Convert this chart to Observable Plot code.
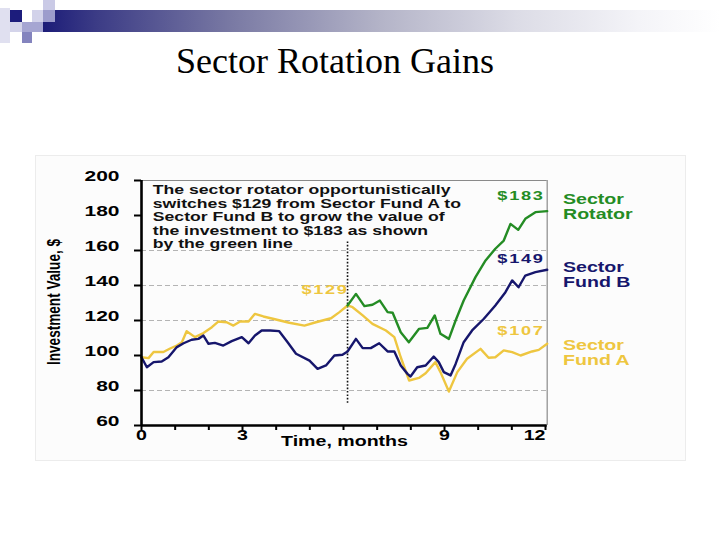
<!DOCTYPE html>
<html><head><meta charset="utf-8">
<script src="https://cdn.jsdelivr.net/npm/d3@7"></script>
<script src="https://cdn.jsdelivr.net/npm/@observablehq/plot@0.6"></script>
<style>
body{margin:0;background:#fff;}
#slide{position:relative;width:720px;height:540px;overflow:hidden;background:#fff;}
.sq{position:absolute;}
#bar{position:absolute;left:43px;top:10px;width:677px;height:22px;
 background:linear-gradient(to right,#1c1c78 0%,#3c3c86 8%,#7a7aa4 28%,#b4b4c8 50%,#dcdce6 70%,#f4f4f8 88%,#ffffff 100%);}
#title{position:absolute;left:176px;top:43px;white-space:nowrap;font-family:"Liberation Serif","Times New Roman",serif;font-size:36px;line-height:36px;color:#000;}
#box{position:absolute;left:35px;top:155px;width:649px;height:304px;background:#fcfcfc;border:1px solid #ececec;}
#chart{position:absolute;left:0;top:150px;}
</style></head>
<body>
<div id="slide">
  <div id="bar"></div>
  <div class="sq" style="left:0;top:8px;width:10px;height:35px;background:#e0e0f0"></div>
  <div class="sq" style="left:10px;top:10px;width:12px;height:12px;background:#1c1c7c"></div>
  <div class="sq" style="left:32px;top:10px;width:11px;height:12px;background:#d2d2ea"></div>
  <div class="sq" style="left:43px;top:0;width:12px;height:10px;background:#cacae6"></div>
  <div class="sq" style="left:43px;top:10px;width:12px;height:12px;background:#9c9ccc"></div>
  <div class="sq" style="left:10px;top:22px;width:12px;height:10px;background:#d4d4ea"></div>
  <div class="sq" style="left:22px;top:22px;width:21px;height:10px;background:#a6a6d2"></div>
  <div class="sq" style="left:22px;top:32px;width:10px;height:11px;background:#8484be"></div>
  <div id="title">Sector Rotation Gains</div>
  <div id="box"></div>
  <div id="chart"></div>
</div>
<script>
// ---- data ----
const fundATime = [0,0.21,0.36,0.65,0.85,1.05,1.20,1.34,1.59,1.84,2.09,2.28,2.53,2.73,2.93,3.18,3.37,3.62,3.90,4.39,4.84,5.18,5.63,5.88,6.12,6.27,6.57,6.86,7.26,7.51,7.70,7.95,8.24,8.44,8.73,8.88,9.13,9.38,9.67,10.07,10.31,10.51,10.76,11.01,11.26,11.60,11.80,12.05];
const fundAValue = [99,98.5,102,102,104,105.7,107.6,113.9,110.5,112.8,116.2,119.4,119,117.1,119.4,119.4,123.8,122.3,121,118.7,117.1,119,121.3,124.8,128.6,127.6,122.9,118.1,114.3,110.5,99,85.7,87.2,89.9,96.2,90.5,79.4,90.5,98.1,103.8,98.7,99,102.9,101.9,100,102.3,103.2,106.7];
const fundBTime = [0,0.16,0.36,0.60,0.80,1.05,1.25,1.49,1.69,1.84,1.99,2.18,2.43,2.68,2.98,3.18,3.37,3.57,3.82,4.09,4.34,4.59,4.99,5.23,5.48,5.73,5.97,6.12,6.37,6.57,6.81,7.06,7.31,7.51,7.70,7.90,7.99,8.19,8.44,8.68,8.83,8.98,9.18,9.33,9.57,9.82,10.17,10.51,10.81,11.01,11.20,11.40,11.70,12.05];
const fundBValue = [99,93.3,96.2,96.6,99,104.8,107,109,109.5,111.4,106.7,107.2,105.7,108.2,110.5,107,111.4,114.3,114.3,113.9,107.6,101,97.1,92.4,94.3,100,100.4,102.3,109.5,104.2,104.2,107,102.3,102.3,94.3,89.5,88,93.3,94.3,99.4,96.2,90.5,88.6,95.2,107.6,114.3,121,128.6,136.2,142.9,139,145.7,147.6,149];
const rotatorTime = [6.12,6.37,6.62,6.86,7.08,7.31,7.46,7.70,7.94,8.24,8.49,8.71,8.88,9.13,9.33,9.57,9.92,10.22,10.51,10.76,10.96,11.19,11.40,11.70,12.05];
const rotatorValue = [128.6,135.2,128.2,129,131.4,124.8,124.4,113.3,107.6,115.2,115.8,122.9,112.4,109.5,120,131.4,144.8,154.3,161,165.7,175.2,171.8,178.1,181.9,182.5];
const switchMonth = [6.12];
const yTicks = [60,80,100,120,140,160,180,200];
const gridValues = [80,120,140,160];
const monthTicks = [0,1,2,3,4,5,6,7,8,9,10,11,12];
const xTickLabels = [0,3,9];
const xLastLabel = [12];
const xAxisTitle = "Time, months";
const yAxisTitle = "Investment Value, $";
const annotationLines = [
  "The sector rotator opportunistically",
  "switches $129 from Sector Fund A to",
  "Sector Fund B to grow the value of",
  "the investment to $183 as shown",
  "by the green line"
];
const seriesNames = ["Sector\nRotator", "Sector\nFund B", "Sector\nFund A"];

// ---- build ----
const yellow = "#eec640", navy = "#16166c", green = "#248c24";
const A = fundATime.map((t, i) => ({t, v: fundAValue[i]}));
const B = fundBTime.map((t, i) => ({t, v: fundBValue[i]}));
const R = rotatorTime.map((t, i) => ({t, v: rotatorValue[i]}));
const money = v => "$" + Math.round(v);
const switchValue = fundAValue[fundATime.indexOf(switchMonth[0])];
const font = "'Liberation Sans', Arial, Helvetica, sans-serif";

const svg = Plot.plot({
  width: 720, height: 315,
  marginTop: 30, marginBottom: 40, marginLeft: 141, marginRight: 175,
  style: {fontFamily: font, fontWeight: "bold", background: "transparent", color: "#000", overflow: "visible"},
  x: {domain: [0, 12]},
  y: {domain: [60, 200]},
  marks: [
    Plot.ruleY(gridValues, {x1: 0, x2: 12.05, stroke: "#b4b4b4", strokeWidth: 1, strokeDasharray: "5,3"}),
    Plot.ruleY([200], {x1: 0, x2: 12.05, stroke: "#8a8a8a", strokeWidth: 1.2}),
    Plot.ruleX([12.05], {y1: 60, y2: 200, stroke: "#8a8a8a", strokeWidth: 1.2}),
    Plot.ruleX(switchMonth, {y1: 72.7, y2: 165.7, stroke: "#111", strokeWidth: 1.6, strokeDasharray: "1.6,1.8"}),
    Plot.line(A, {x: "t", y: "v", stroke: yellow, strokeWidth: 2.4}),
    Plot.line(B, {x: "t", y: "v", stroke: navy, strokeWidth: 2.4}),
    Plot.line(R, {x: "t", y: "v", stroke: green, strokeWidth: 2.4}),
    Plot.axisY({ticks: yTicks, tickSize: 7, tickPadding: 15, fontSize: 15, color: "#000", strokeWidth: 2, label: null, tickFormat: d => String(d)}),
    Plot.axisX({ticks: monthTicks, tickSize: 5, color: "#000", strokeWidth: 2, label: null, tickFormat: () => ""}),
    Plot.ruleX([0], {y1: 60, y2: 200, stroke: "#000", strokeWidth: 2.6}),
    Plot.ruleY([60], {x1: 0, x2: 12.05, stroke: "#000", strokeWidth: 2.6}),
    Plot.text(xTickLabels, {x: d => d, text: d => String(d), frameAnchor: "bottom", dy: 14, lineAnchor: "middle", fontSize: 14, fill: "#000"}),
    Plot.text(xLastLabel, {x: d => d, text: d => String(d), frameAnchor: "bottom", dy: 14, lineAnchor: "middle", textAnchor: "end", fontSize: 14, fill: "#000"}),
    Plot.text([xAxisTitle], {frameAnchor: "bottom", dx: 1, dy: 20, lineAnchor: "middle", fontSize: 14, fill: "#000"}),
    Plot.text([yAxisTitle], {frameAnchor: "left", dx: -82, dy: -1, rotate: -90, textAnchor: "middle", lineAnchor: "middle", fontSize: 13.6, fill: "#000"}),
    Plot.text([annotationLines.join("\n")], {x: 0.335, y: 197.7, textAnchor: "start", lineAnchor: "top", lineHeight: 1.07, fontSize: 12.6, fill: "#111"}),
    Plot.text([money(rotatorValue[rotatorValue.length - 1])], {x: 10.57, y: 188.6, textAnchor: "start", lineAnchor: "middle", fontSize: 13, fill: green}),
    Plot.text([money(fundBValue[fundBValue.length - 1])], {x: 10.57, y: 153.1, textAnchor: "start", lineAnchor: "middle", fontSize: 13, fill: navy}),
    Plot.text([money(fundAValue[fundAValue.length - 1])], {x: 10.57, y: 111.6, textAnchor: "start", lineAnchor: "middle", fontSize: 13, fill: yellow}),
    Plot.text([money(switchValue)], {x: 4.75, y: 135.3, textAnchor: "start", lineAnchor: "middle", fontSize: 13, fill: yellow}),
    Plot.text([seriesNames[0]], {x: 12.52, y: 192.7, textAnchor: "start", lineAnchor: "top", lineHeight: 1.06, fontSize: 14, fill: green}),
    Plot.text([seriesNames[1]], {x: 12.52, y: 153.7, textAnchor: "start", lineAnchor: "top", lineHeight: 1.06, fontSize: 14, fill: navy}),
    Plot.text([seriesNames[2]], {x: 12.52, y: 109, textAnchor: "start", lineAnchor: "top", lineHeight: 1.07, fontSize: 14, fill: yellow})
  ]
});

// The source picture is horizontally stretched: widen glyphs about their anchor point.
const k = 1.4;
svg.querySelectorAll("text").forEach(el => {
  let t = el.getAttribute("transform") || "";
  const x = el.getAttribute("x"), y = el.getAttribute("y");
  if (x != null || y != null) {
    t = `${t} translate(${+x || 0},${+y || 0})`;
    el.removeAttribute("x"); el.removeAttribute("y");
  }
  if (t.includes("rotate(")) t = t.replace("rotate(", `scale(${k},1) rotate(`);
  else t = `${t} scale(${k},1)`;
  el.setAttribute("transform", t.trim());
  if (el.textContent.startsWith("$")) el.style.letterSpacing = "1.2px";
});
document.getElementById("chart").appendChild(svg);
</script>
</body></html>
